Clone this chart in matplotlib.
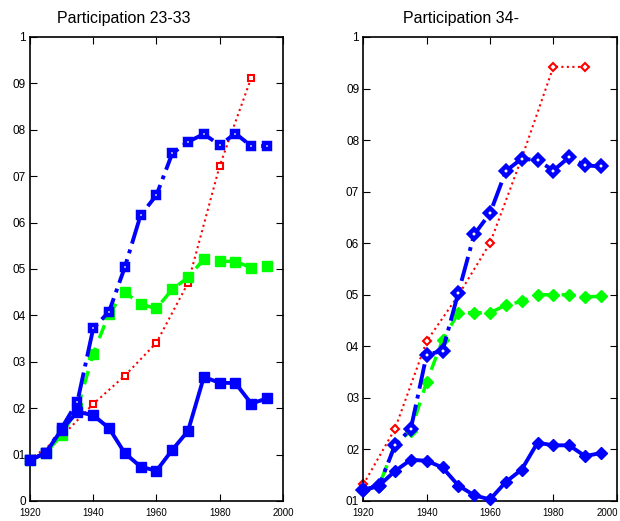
import numpy as np
import matplotlib
matplotlib.use("Agg")
import matplotlib.pyplot as plt
import matplotlib.transforms as mtransforms

plt.rcParams['font.family'] = ['Liberation Sans', 'DejaVu Sans']

years = list(range(1920, 2000, 5))
years_red = list(range(1920, 2000, 10))

# Participation 23-33
left_solid = [0.088, 0.104, 0.154, 0.192, 0.185, 0.157, 0.103, 0.074, 0.065, 0.110,
              0.151, 0.267, 0.255, 0.254, 0.210, 0.221]
left_dashdot = [0.088, 0.104, 0.157, 0.214, 0.372, 0.408, 0.504, 0.616, 0.659, 0.749,
                0.774, 0.791, 0.767, 0.792, 0.765, 0.765]
left_green = [0.088, 0.104, 0.142, 0.200, 0.317, 0.404, 0.450, 0.424, 0.415, 0.456,
              0.482, 0.521, 0.517, 0.516, 0.503, 0.506]
left_red = [0.090, 0.139, 0.209, 0.270, 0.341, 0.470, 0.722, 0.912]

# Participation 34-
right_solid = [0.121, 0.130, 0.158, 0.180, 0.178, 0.165, 0.130, 0.111, 0.103, 0.137,
               0.161, 0.213, 0.208, 0.208, 0.187, 0.193]
right_dashdot = [0.121, 0.130, 0.208, 0.240, 0.384, 0.391, 0.504, 0.617, 0.658, 0.740,
                 0.764, 0.761, 0.741, 0.767, 0.751, 0.749]
right_green = [0.121, 0.130, 0.210, 0.236, 0.331, 0.412, 0.465, 0.465, 0.465, 0.480,
               0.487, 0.500, 0.500, 0.500, 0.496, 0.497]
right_red = [0.132, 0.240, 0.410, 0.499, 0.600, 0.765, 0.942, 0.942]

xticks = [1920, 1940, 1960, 1980, 2000]
xtick_labels = ["1920", "1940", "1960", "1980", "2000"]

fig = plt.figure(figsize=(6.2, 5.21), dpi=100)
ax1 = fig.add_axes([0.0484, 0.0384, 0.4078, 0.8906])
ax2 = fig.add_axes([0.586, 0.0384, 0.4087, 0.8906])

blue = '#0000ff'
green = '#00ff00'
red = '#ff0000'


def draw(ax, mk, solid, dashdot, green_v, red_v, ms):
    ax.plot(years_red, red_v, color=red, ls=':', lw=1.5, marker=mk, ms=ms - 2.5,
            mfc='white', mec=red, mew=1.5, zorder=2, clip_on=False)
    ax.plot(years, green_v, color=green, ls=(0, (4, 3)), lw=2.5, marker=mk, ms=ms,
            mfc=green, mec=green, mew=1, zorder=3, clip_on=False)
    ax.plot(years, dashdot, color=blue, ls='-.', lw=2.8, marker=mk, ms=ms - 1.5,
            mfc='white', mec=blue, mew=3.2, zorder=4, clip_on=False)
    ax.plot(years, solid, color=blue, ls='-', lw=2.8, marker=mk, ms=ms,
            mfc=blue, mec=blue, mew=1, zorder=5, clip_on=False)


draw(ax1, 's', left_solid, left_dashdot, left_green, left_red, 6.5)
draw(ax2, 'D', right_solid, right_dashdot, right_green, right_red, 6.5)

ax1.set_ylim(0, 1)
ax1.set_yticks(np.arange(0, 1.01, 0.1))
ax1.set_yticklabels(["0", "01", "02", "03", "04", "05", "06", "07", "08", "09", "1"])
ax2.set_ylim(0.1, 1)
ax2.set_yticks(np.arange(0.1, 1.01, 0.1))
ax2.set_yticklabels(["01", "02", "03", "04", "05", "06", "07", "08", "09", "1"])

for ax in (ax1, ax2):
    ax.set_xlim(1920, 2000)
    ax.set_xticks(xticks)
    ax.set_xticklabels(xtick_labels)
    ax.tick_params(direction='in', top=True, right=True, length=5, width=0.8,
                   labelsize=8.5, pad=3)
    ax.tick_params(axis='x', labelsize=7, pad=5)
    for sp in ax.spines.values():
        sp.set_linewidth(1.2)

# keep the last label of the right panel inside the figure
last = ax2.get_xticklabels()[-1]
last.set_transform(last.get_transform() +
                   mtransforms.ScaledTranslation(-6.5 / 72, 0, fig.dpi_scale_trans))

ax1.set_title("Participation 23-33", fontsize=11.5, pad=10, x=0.37)
ax2.set_title("Participation 34-", fontsize=11.5, pad=10, x=0.385)

fig.savefig("out.png", dpi=100)
